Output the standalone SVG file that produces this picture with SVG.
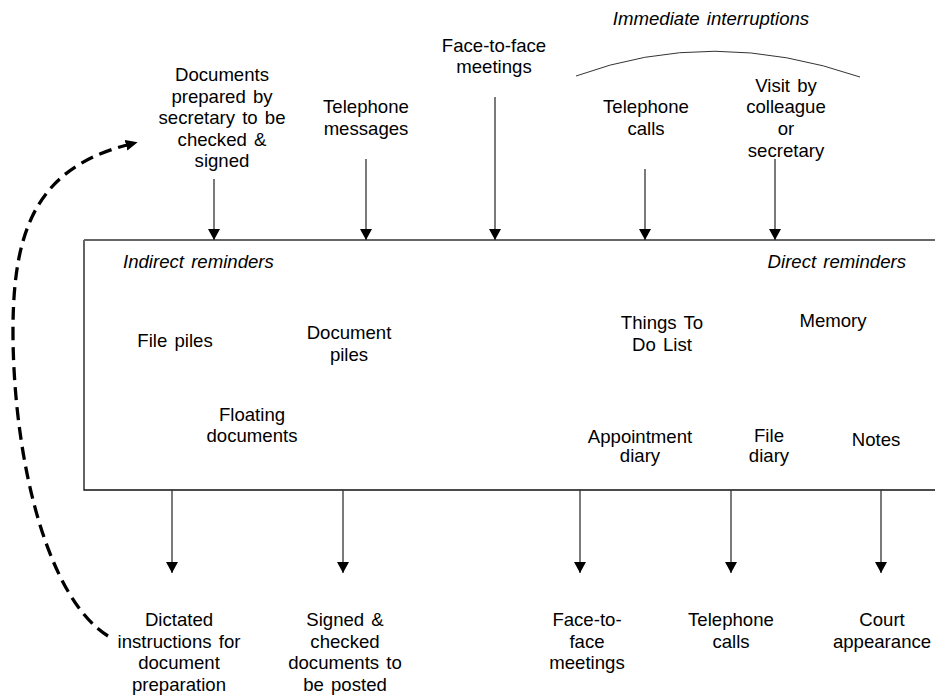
<svg xmlns="http://www.w3.org/2000/svg" width="935" height="697" viewBox="0 0 935 697">
<defs>
<style>
text{font-family:"Liberation Sans",Arial,sans-serif;font-size:18.6px;fill:#000;word-spacing:2px}
.c{text-anchor:middle}
.i{font-style:italic}
.ln{stroke:#333;stroke-width:1.3;fill:none;marker-end:url(#ah)}
</style>
<marker id="ah" viewBox="0 0 11 12" refX="11" refY="6" markerWidth="11" markerHeight="12" markerUnits="userSpaceOnUse" orient="auto"><path d="M0,0 L11,6 L0,12 z" fill="#000"/></marker>
<marker id="dh" viewBox="0 0 12 11" refX="1" refY="5.5" markerWidth="12" markerHeight="11" markerUnits="userSpaceOnUse" orient="auto"><path d="M0,0 L12,5.5 L0,11 z" fill="#000"/></marker>
</defs>
<rect width="935" height="697" fill="#fff"/>

<g id="box">
<path d="M84,240 V490 H935" fill="none" stroke="#111" stroke-width="1.3"/>
<path d="M84,240 H935" fill="none" stroke="#666" stroke-width="2"/>
</g>

<g id="connectors">
<line class="ln" x1="214" y1="179" x2="214" y2="240"/>
<line class="ln" x1="366" y1="159" x2="366" y2="240"/>
<line class="ln" x1="495" y1="97" x2="495" y2="240"/>
<line class="ln" x1="645" y1="169" x2="645" y2="240"/>
<line class="ln" x1="775" y1="159" x2="775" y2="240"/>
<line class="ln" x1="172" y1="490" x2="172" y2="573"/>
<line class="ln" x1="343" y1="490" x2="343" y2="573"/>
<line class="ln" x1="580" y1="490" x2="580" y2="573"/>
<line class="ln" x1="731" y1="490" x2="731" y2="573"/>
<line class="ln" x1="881" y1="490" x2="881" y2="573"/>
<path d="M108,636 C50,600 15,470 13,340 C12,240 30,170 127,145" fill="none" stroke="#000" stroke-width="3.3" stroke-dasharray="13 7" marker-end="url(#dh)"/>
<path d="M576,76 Q712,26 860,77" fill="none" stroke="#333" stroke-width="1"/>
</g>

<g id="n-docs-prepared"><text class="c" x="222" y="81">Documents</text><text class="c" x="222" y="102.5">prepared by</text><text class="c" x="222" y="124">secretary to be</text><text class="c" x="222" y="145.5">checked &amp;</text><text class="c" x="222" y="167">signed</text></g>
<g id="n-tel-messages"><text class="c" x="366" y="113">Telephone</text><text class="c" x="366" y="135">messages</text></g>
<g id="n-face-top"><text class="c" x="494" y="52">Face-to-face</text><text class="c" x="494" y="73">meetings</text></g>
<g id="n-immediate"><text class="c i" x="711" y="25">Immediate interruptions</text></g>
<g id="n-tel-calls-top"><text class="c" x="646" y="113">Telephone</text><text class="c" x="646" y="135">calls</text></g>
<g id="n-visit"><text class="c" x="786" y="92">Visit by</text><text class="c" x="786" y="113">colleague</text><text class="c" x="786" y="135">or</text><text class="c" x="786" y="157">secretary</text></g>

<g id="n-indirect"><text class="i" x="123" y="268">Indirect reminders</text></g>
<g id="n-direct"><text class="i" x="906" y="268" text-anchor="end">Direct reminders</text></g>
<g id="n-file-piles"><text class="c" x="175" y="347">File piles</text></g>
<g id="n-doc-piles"><text class="c" x="349" y="339">Document</text><text class="c" x="349" y="361">piles</text></g>
<g id="n-floating"><text class="c" x="252" y="421">Floating</text><text class="c" x="252" y="442">documents</text></g>
<g id="n-todo"><text class="c" x="662" y="329">Things To</text><text class="c" x="662" y="351">Do List</text></g>
<g id="n-memory"><text class="c" x="833" y="327">Memory</text></g>
<g id="n-appointment"><text class="c" x="640" y="443">Appointment</text><text class="c" x="640" y="462">diary</text></g>
<g id="n-file-diary"><text class="c" x="769" y="442">File</text><text class="c" x="769" y="462">diary</text></g>
<g id="n-notes"><text class="c" x="876" y="446">Notes</text></g>

<g id="n-dictated"><text class="c" x="179" y="626">Dictated</text><text class="c" x="179" y="647.5">instructions for</text><text class="c" x="179" y="669">document</text><text class="c" x="179" y="690.5">preparation</text></g>
<g id="n-signed"><text class="c" x="345" y="626">Signed &amp;</text><text class="c" x="345" y="647.5">checked</text><text class="c" x="345" y="669">documents to</text><text class="c" x="345" y="690.5">be posted</text></g>
<g id="n-face-bottom"><text class="c" x="587" y="626">Face-to-</text><text class="c" x="587" y="647.5">face</text><text class="c" x="587" y="669">meetings</text></g>
<g id="n-tel-calls-bottom"><text class="c" x="731" y="626">Telephone</text><text class="c" x="731" y="647.5">calls</text></g>
<g id="n-court"><text class="c" x="882" y="626">Court</text><text class="c" x="882" y="647.5">appearance</text></g>
</svg>
